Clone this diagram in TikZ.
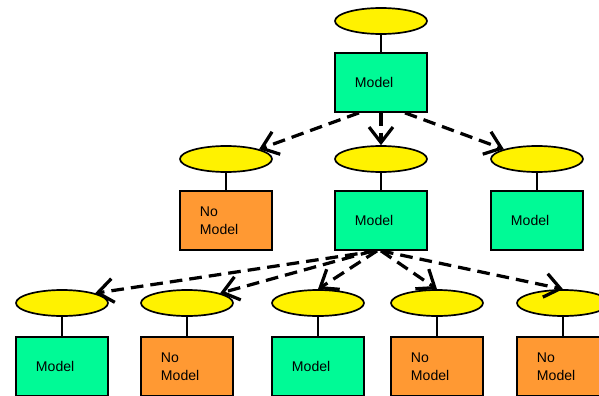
\documentclass[tikz,border=0pt]{standalone}
\usepackage{fontspec}
\setmainfont{Liberation Sans}
\usetikzlibrary{shapes.geometric,arrows.meta}
\definecolor{modelgreen}{RGB}{0,250,150}
\definecolor{nomodelorange}{RGB}{255,153,51}

\begin{document}
\begin{tikzpicture}[x=0.025cm, y=-0.025cm]
    \tikzstyle{every node}=[font=\fontsize{10}{12.7}\selectfont]
    \tikzstyle{oval}=[ellipse, draw, fill=yellow, line width=1.2pt, minimum width=2.3cm, minimum height=0.65cm, inner sep=0pt]
    \tikzstyle{box}=[rectangle, draw, line width=1.2pt, text width=1.3cm, inner xsep=0.5cm, inner ysep=0pt, minimum height=1.475cm, align=left]
    \tikzstyle{model}=[box, fill=modelgreen]
    \tikzstyle{nomodel}=[box, fill=nomodelorange]
    \tikzstyle{link}=[line width=1pt]
    \tikzstyle{split}=[line width=2.3pt, dash pattern=on 9pt off 5pt, -{Straight Barb[length=11pt, width=17pt]}]
    \useasboundingbox (0,0) rectangle (599,395);
    % root
    \node[oval] (ell0) at (381,21) {};
    \node[model] (box0) at (381,82.5) {Model};
    % level 1
    \node[oval] (ell1) at (226,159) {};
    \node[nomodel] (box1) at (226,220.5) {No\\Model};
    \node[oval] (ell2) at (381,159) {};
    \node[model] (box2) at (381,220.5) {Model};
    \node[oval] (ell3) at (537,159) {};
    \node[model] (box3) at (537,220.5) {Model};
    % level 2
    \node[oval] (ell4) at (62,303) {};
    \node[model] (box4) at (62,366.5) {Model};
    \node[oval] (ell5) at (187,303) {};
    \node[nomodel] (box5) at (187,366.5) {No\\Model};
    \node[oval] (ell6) at (318,303) {};
    \node[model] (box6) at (318,366.5) {Model};
    \node[oval] (ell7) at (437,303) {};
    \node[nomodel] (box7) at (437,366.5) {No\\Model};
    \node[oval] (ell8) at (563,303) {};
    \node[nomodel] (box8) at (563,366.5) {No\\Model};

    \foreach \i in {0,...,8} \draw[link] (ell\i) -- (box\i);

    \draw[split] ([xshift=-0.55cm]box0.south) -- (ell1.north east);
    \draw[split] (box0.south) -- (ell2.north);
    \draw[split] ([xshift=0.6cm]box0.south) -- (ell3.north west);

    \draw[split] ([xshift=-0.1cm]box2.south) -- (ell4.north east);
    \draw[split] ([xshift=-0.2cm]box2.south) -- (ell5.north east);
    \draw[split] ([xshift=-0.1cm]box2.south) -- (ell6.north);
    \draw[split] (box2.south) -- (ell7.north);
    \draw[split] (box2.south) -- (ell8.north);

\end{tikzpicture}
\end{document}
